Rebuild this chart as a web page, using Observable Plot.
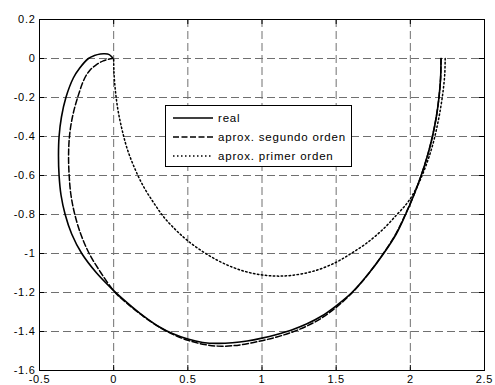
<!DOCTYPE html>
<html>
<head>
<meta charset="utf-8">
<script src="https://cdn.jsdelivr.net/npm/d3@7"></script>
<script src="https://cdn.jsdelivr.net/npm/@observablehq/plot@0.6"></script>
<style>
  html, body { margin: 0; padding: 0; background: #fff; }
  #wrap { position: relative; width: 495px; height: 385px; }
  #wrap svg text { letter-spacing: 0.7px; }
  #legend {
    position: absolute; left: 165px; top: 105px; width: 187px; height: 62px;
    border: 1px solid #000; background: #fff; box-sizing: border-box;
    font-family: "Liberation Sans", Arial, sans-serif; font-size: 11.5px; letter-spacing: 0.8px; color: #000;
  }
  .row { position: absolute; left: 0; height: 16px; display: flex; align-items: center; white-space: nowrap; }
  .row svg { margin-left: 7px; }
  .row span { margin-left: 5px; }
</style>
</head>
<body>
<div id="wrap"></div>
<script>
// Tick values
const xTicks = [-0.5, 0, 0.5, 1, 1.5, 2, 2.5];
const yTicks = [0.2, 0, -0.2, -0.4, -0.6, -0.8, -1, -1.2, -1.4, -1.6];

// Series: real
const realX = [2.207, 2.204, 2.193, 2.175, 2.149, 2.115, 2.073, 2.024, 1.968, 1.905, 1.82, 1.722, 1.606,
  1.5, 1.4, 1.3, 1.2, 1.1, 1.0, 0.9, 0.8, 0.7, 0.6, 0.5, 0.4, 0.3, 0.2, 0.1, 0,
  -0.115, -0.215, -0.283, -0.327, -0.355, -0.368, -0.372, -0.368, -0.352, -0.322, -0.272, -0.23, -0.17, -0.13, -0.09, -0.06, -0.03, -0.015, -0.005];
const realY = [0, -0.1, -0.2, -0.3, -0.4, -0.5, -0.6, -0.7, -0.8, -0.9, -1.0, -1.1, -1.2,
  -1.268, -1.322, -1.362, -1.392, -1.415, -1.434, -1.449, -1.458, -1.461, -1.456, -1.439, -1.412, -1.373, -1.32, -1.258, -1.19,
  -1.1, -1.0, -0.9, -0.8, -0.7, -0.6, -0.5, -0.4, -0.3, -0.2, -0.1, -0.05, 0, 0.015, 0.023, 0.024, 0.02, 0.01, 0];

// Series: aprox. segundo orden
const seg2X = [2.207, 2.204, 2.193, 2.175, 2.149, 2.115, 2.073, 2.024, 1.966, 1.902, 1.818, 1.722, 1.61,
  1.5, 1.4, 1.3, 1.2, 1.1, 1.0, 0.9, 0.8, 0.7, 0.6, 0.5, 0.4, 0.3, 0.2, 0.1, 0.01,
  -0.085, -0.165, -0.222, -0.262, -0.288, -0.3, -0.304, -0.298, -0.278, -0.243, -0.195, -0.16, -0.12, -0.07, -0.01];
const seg2Y = [0, -0.1, -0.2, -0.3, -0.4, -0.5, -0.6, -0.7, -0.8, -0.9, -1.0, -1.1, -1.2,
  -1.276, -1.332, -1.373, -1.404, -1.428, -1.447, -1.463, -1.473, -1.475, -1.465, -1.445, -1.415, -1.374, -1.322, -1.262, -1.2,
  -1.1, -1.0, -0.9, -0.8, -0.7, -0.6, -0.5, -0.4, -0.3, -0.2, -0.1, -0.06, -0.034, -0.012, 0];

// Series: aprox. primer orden
const prim1X = [2.235, 2.232, 2.222, 2.205, 2.18, 2.148, 2.105, 2.05, 1.985, 1.91, 1.81, 1.7, 1.6, 1.5, 1.35, 1.2, 1.1, 1.0, 0.9, 0.8, 0.7, 0.6, 0.5, 0.42, 0.34, 0.27, 0.2, 0.14, 0.09, 0.055, 0.028, 0.011, 0.002, 0];
const prim1Y = [0, -0.08, -0.16, -0.25, -0.35, -0.45, -0.55, -0.65, -0.735, -0.8, -0.88, -0.95, -1.0, -1.045, -1.09, -1.112, -1.116, -1.11, -1.095, -1.07, -1.035, -0.99, -0.935, -0.88, -0.815, -0.74, -0.655, -0.56, -0.46, -0.36, -0.26, -0.16, -0.07, 0];

const seriesNames = ["real", "aprox. segundo orden", "aprox. primer orden"];

const toRows = (xs, ys) => xs.map((x, i) => ({x, y: ys[i]}));
const real = toRows(realX, realY);
const seg2 = toRows(seg2X, seg2Y);
const prim1 = toRows(prim1X, prim1Y);

const fmt = d => String(Math.round(d * 10) / 10);
const xMin = xTicks[0], xMax = xTicks[xTicks.length - 1];
const yMax = yTicks[0], yMin = yTicks[yTicks.length - 1];

const gridStyle = {stroke: "#707070", strokeOpacity: 1, strokeWidth: 1, strokeDasharray: "8,4"};

const chart = Plot.plot({
  width: 495,
  height: 385,
  marginLeft: 39,
  marginRight: 11,
  marginTop: 19,
  marginBottom: 15,
  style: {fontFamily: "'Liberation Sans', Arial, sans-serif", fontSize: "11px", color: "#000", background: "#fff"},
  x: {domain: [xMin, xMax]},
  y: {domain: [yMin, yMax]},
  marks: [
    Plot.gridX(xTicks.slice(1, -1), gridStyle),
    Plot.gridY(yTicks.slice(1, -1), gridStyle),
    // inward tick marks
    Plot.ruleX(xTicks, {x: d => d, y1: yMax, y2: yMax, insetBottom: -5, stroke: "#000"}),
    Plot.ruleX(xTicks, {x: d => d, y1: yMin, y2: yMin, insetTop: -5, stroke: "#000"}),
    Plot.ruleY(yTicks, {y: d => d, x1: xMin, x2: xMin, insetRight: -5, stroke: "#000"}),
    Plot.ruleY(yTicks, {y: d => d, x1: xMax, x2: xMax, insetLeft: -5, stroke: "#000"}),
    Plot.line(prim1, {x: "x", y: "y", stroke: "#000", strokeWidth: 1.5, strokeDasharray: "1.5,2.5", curve: "catmull-rom"}),
    Plot.line(seg2, {x: "x", y: "y", stroke: "#000", strokeWidth: 1.5, strokeDasharray: "6,2.5", curve: "catmull-rom"}),
    Plot.line(real, {x: "x", y: "y", stroke: "#000", strokeWidth: 1.6, curve: "catmull-rom"}),
    Plot.frame({stroke: "#000", strokeWidth: 1}),
    Plot.axisX(xTicks, {tickSize: 0, tickPadding: 5, tickFormat: fmt, label: null}),
    Plot.axisY(yTicks, {tickSize: 0, tickPadding: 4, tickFormat: fmt, label: null})
  ]
});

const wrap = document.getElementById("wrap");
wrap.appendChild(chart);

// Legend
const dashes = ["none", "6,2.5", "1.5,2.5"];
const legend = document.createElement("div");
legend.id = "legend";
const rowTops = [4, 23, 42];
seriesNames.forEach((name, i) => {
  const row = document.createElement("div");
  row.className = "row";
  row.style.top = rowTops[i] + "px";
  row.innerHTML = `<svg width="40" height="4"><line x1="0" y1="2" x2="40" y2="2" stroke="#000" stroke-width="1.6" stroke-dasharray="${dashes[i]}"/></svg><span>${name}</span>`;
  legend.appendChild(row);
});
wrap.appendChild(legend);
</script>
</body>
</html>
